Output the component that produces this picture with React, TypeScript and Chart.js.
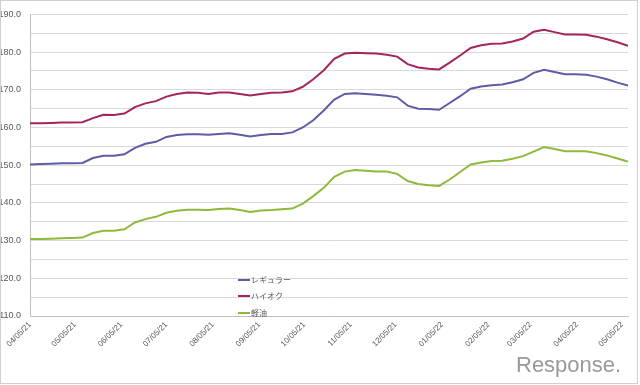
import React, { useEffect, useRef } from "react";
import { Chart, registerables } from "chart.js";

Chart.register(...registerables);

// Weekly survey dates (MM/DD/YY)
const weekDates = [
  "04/05/21", "04/12/21", "04/19/21", "04/26/21",
  "05/03/21", "05/10/21", "05/17/21", "05/24/21", "05/31/21",
  "06/07/21", "06/14/21", "06/21/21", "06/28/21",
  "07/05/21", "07/12/21", "07/19/21", "07/26/21",
  "08/02/21", "08/09/21", "08/16/21", "08/23/21", "08/30/21",
  "09/06/21", "09/13/21", "09/20/21", "09/27/21",
  "10/04/21", "10/11/21", "10/18/21", "10/25/21",
  "11/01/21", "11/08/21", "11/15/21", "11/22/21", "11/29/21",
  "12/06/21", "12/13/21", "12/20/21", "12/27/21",
  "01/03/22", "01/10/22", "01/17/22", "01/24/22", "01/31/22",
  "02/07/22", "02/14/22", "02/21/22", "02/28/22",
  "03/07/22", "03/14/22", "03/21/22", "03/28/22",
  "04/04/22", "04/11/22", "04/18/22", "04/25/22",
  "05/02/22", "05/09/22",
];

const regular = [
  150.2, 150.3, 150.4, 150.5, 150.5, 150.6, 151.9, 152.5, 152.5, 152.9,
  154.6, 155.7, 156.2, 157.5, 158.0, 158.2, 158.2, 158.1, 158.3, 158.5,
  158.1, 157.6, 158.0, 158.3, 158.3, 158.7, 160.0, 161.9, 164.5, 167.4,
  168.9, 169.1, 168.9, 168.7, 168.4, 168.0, 165.8, 165.0, 164.9, 164.7,
  166.5, 168.3, 170.3, 170.9, 171.2, 171.4, 172.0, 172.8, 174.5, 175.3,
  174.7, 174.1, 174.1, 174.0, 173.5, 172.8, 171.9, 171.1,
];

const highOctane = [
  161.1, 161.1, 161.2, 161.3, 161.3, 161.4, 162.5, 163.4, 163.3, 163.7,
  165.4, 166.4, 167.0, 168.2, 168.9, 169.3, 169.2, 168.9, 169.3, 169.3,
  168.9, 168.5, 168.9, 169.2, 169.3, 169.6, 170.8, 172.8, 175.2, 178.2,
  179.6, 179.8, 179.7, 179.6, 179.3, 178.8, 176.8, 175.9, 175.6, 175.4,
  177.2, 179.1, 181.1, 181.8, 182.2, 182.3, 182.8, 183.6, 185.4, 185.9,
  185.3, 184.7, 184.7, 184.6, 184.1, 183.4, 182.6, 181.7,
];

const diesel = [
  130.4, 130.4, 130.5, 130.6, 130.7, 130.8, 132.0, 132.6, 132.6, 133.0,
  134.8, 135.7, 136.3, 137.4, 137.9, 138.2, 138.2, 138.1, 138.4, 138.5,
  138.1, 137.6, 138.0, 138.1, 138.3, 138.5, 139.8, 141.8, 144.0, 146.9,
  148.3, 148.7, 148.5, 148.3, 148.3, 147.7, 145.8, 145.0, 144.7, 144.5,
  146.2, 148.2, 150.2, 150.7, 151.1, 151.2, 151.7, 152.4, 153.6, 154.8,
  154.3, 153.7, 153.7, 153.7, 153.2, 152.6, 151.8, 151.0,
];

const seriesNames = ["レギュラー", "ハイオク", "軽油"];
const seriesColors = ["#5d5ca6", "#a3255e", "#8dba3c"];

const monthLabels = [
  "04/05/21", "05/05/21", "06/05/21", "07/05/21", "08/05/21", "09/05/21",
  "10/05/21", "11/05/21", "12/05/21", "01/05/22", "02/05/22", "03/05/22",
  "04/05/22", "05/05/22",
];

const yTickLabels = ["110.0", "120.0", "130.0", "140.0", "150.0", "160.0", "170.0", "180.0", "190.0"];

function toDay(s: string): number {
  const [m, d, y] = s.split("/").map((v) => parseInt(v, 10));
  return Date.UTC(2000 + y, m - 1, d) / 86400000;
}
const day0 = toDay(weekDates[0]);
const xOf = (s: string) => toDay(s) - day0;

const FONT = "'Liberation Sans', Arial, sans-serif";

const extrasPlugin = {
  id: "extras",
  afterDraw(chart: any) {
    const ctx = chart.ctx;
    ctx.save();
    // frame
    ctx.strokeStyle = "#d0d0d0";
    ctx.lineWidth = 1;
    ctx.strokeRect(0.5, 0.5, 637, 383);
    // legend
    const lx = 238;
    const ys = [280, 296, 313];
    chart.data.datasets.forEach((ds: any, i: number) => {
      ctx.strokeStyle = ds.borderColor;
      ctx.lineWidth = 2;
      ctx.beginPath();
      ctx.moveTo(lx, ys[i]);
      ctx.lineTo(lx + 12, ys[i]);
      ctx.stroke();
      ctx.fillStyle = "#595959";
      ctx.font = "8px 'Noto Sans CJK JP', sans-serif";
      ctx.textBaseline = "middle";
      ctx.textAlign = "left";
      ctx.fillText(ds.label, lx + 13, ys[i]);
    });
    // watermark
    ctx.fillStyle = "#9a9a9a";
    ctx.font = "22px " + FONT;
    ctx.textBaseline = "alphabetic";
    ctx.textAlign = "left";
    ctx.fillText("Response.", 516, 372);
    ctx.restore();
  },
};

export default function App() {
  const ref = useRef<HTMLCanvasElement>(null);
  useEffect(() => {
    document.body.style.margin = "0";
    const xs = weekDates.map(xOf);
    const mk = (vals: number[]) => vals.map((v, i) => ({ x: xs[i], y: v }));
    const chart = new Chart(ref.current as HTMLCanvasElement, {
      type: "line",
      data: {
        datasets: [regular, highOctane, diesel].map((vals, i) => ({
          label: seriesNames[i],
          data: mk(vals),
          borderColor: seriesColors[i],
          backgroundColor: seriesColors[i],
          borderWidth: 2,
          pointRadius: 0,
          tension: 0,
          fill: false,
        })),
      },
      options: {
        responsive: false,
        animation: false,
        layout: { padding: { left: 0, top: 12, right: 12, bottom: 0 } },
        plugins: { legend: { display: false }, tooltip: { enabled: false } },
        scales: {
          x: {
            type: "linear",
            min: 0,
            max: xOf(weekDates[weekDates.length - 1]),
            afterBuildTicks: (scale: any) => {
              scale.ticks = monthLabels.map((l) => ({ value: xOf(l) }));
            },
            afterFit: (scale: any) => {
              scale.height = 69;
            },
            grid: { display: false, drawTicks: false },
            border: { display: true, color: "#bfbfbf", width: 1 },
            ticks: {
              autoSkip: false,
              maxRotation: 45,
              minRotation: 45,
              padding: 4,
              color: "#595959",
              font: { family: FONT, size: 8 },
              callback: (_v: any, i: number) => monthLabels[i],
            },
          },
          y: {
            min: 110,
            max: 190,
            afterFit: (scale: any) => {
              scale.width = 30;
            },
            grid: { color: "#d9d9d9", lineWidth: 1, drawTicks: false },
            border: { display: true, color: "#bfbfbf", width: 1 },
            ticks: {
              stepSize: 5,
              padding: 9,
              color: "#595959",
              font: { family: FONT, size: 9 },
              callback: (v: any) => {
                const s = Number(v).toFixed(1);
                return yTickLabels.includes(s) ? s : "";
              },
            },
          },
        },
      },
      plugins: [extrasPlugin],
    });
    return () => chart.destroy();
  }, []);
  return (
    <div style={{ position: "absolute", left: 0, top: 0, width: 640, height: 385, background: "#fff" }}>
      <canvas ref={ref} width={640} height={385} />
    </div>
  );
}
